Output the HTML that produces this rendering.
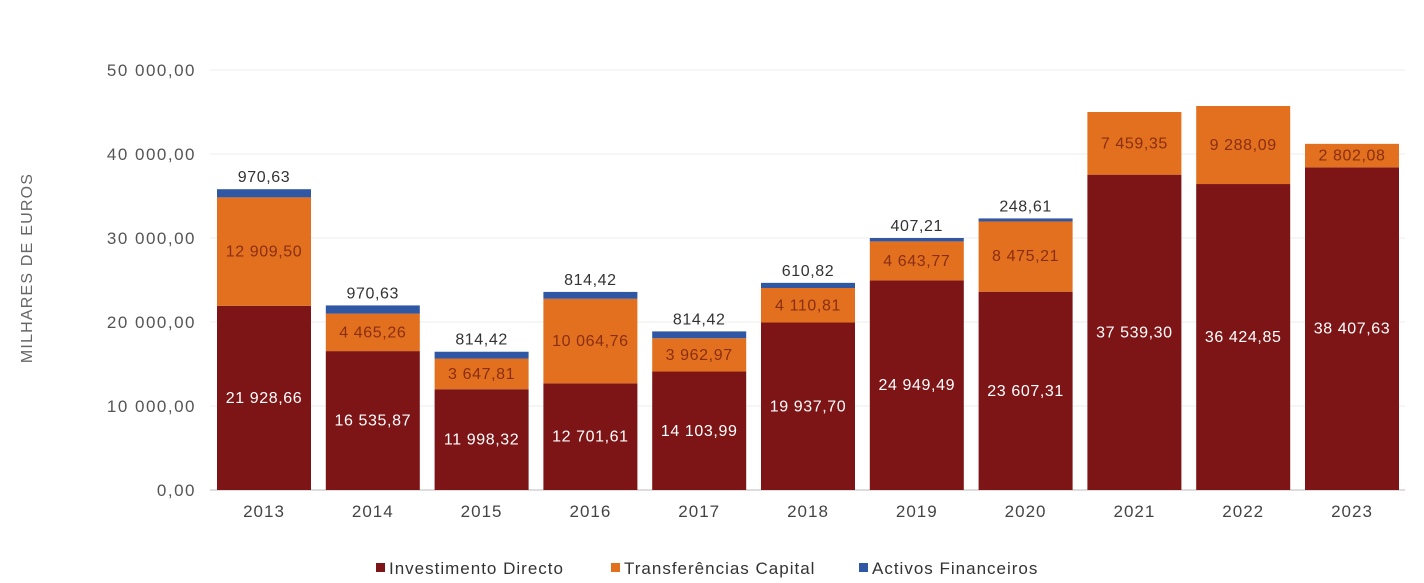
<!DOCTYPE html>
<html><head><meta charset="utf-8">
<style>
body{margin:0;background:#fff;font-family:"Liberation Sans",sans-serif;}
svg text{font-family:"Liberation Sans",sans-serif;}
</style></head>
<body>
<svg id="chart" width="1424" height="578">
<text x="32" y="268" transform="rotate(-90 32 268)" text-anchor="middle" font-size="16" fill="#666" letter-spacing="1.2">MILHARES DE EUROS</text>
<g id="grid"></g><g id="bars"></g><g id="labels"></g>
<g letter-spacing="1">
<rect x="376" y="563" width="9" height="9" fill="#7d1517"/><text x="389" y="574" font-size="17" fill="#333">Investimento Directo</text>
<rect x="611" y="563" width="9" height="9" fill="#e3701f"/><text x="624" y="574" font-size="17" fill="#333">Transferências Capital</text>
<rect x="859" y="563" width="9" height="9" fill="#2f57a4"/><text x="872" y="574" font-size="17" fill="#333">Activos Financeiros</text>
</g>
</svg>
<script>
const categories=["2013","2014","2015","2016","2017","2018","2019","2020","2021","2022","2023"];
const investimento=[21928.66,16535.87,11998.32,12701.61,14103.99,19937.70,24949.49,23607.31,37539.30,36424.85,38407.63];
const transferencias=[12909.50,4465.26,3647.81,10064.76,3962.97,4110.81,4643.77,8475.21,7459.35,9288.09,2802.08];
const activos=[970.63,970.63,814.42,814.42,814.42,610.82,407.21,248.61,0,0,0];
const ticks=[0,10000,20000,30000,40000,50000];
const NS="http://www.w3.org/2000/svg";
const y=v=>490-v*0.0084;
const x=i=>264+i*108.8;
const fmt=v=>{let s=v.toFixed(2).split(".");return s[0].replace(/\B(?=(\d{3})+(?!\d))/g," ")+","+s[1];};
function mk(tag,attrs,parent,txt){const e=document.createElementNS(NS,tag);for(const k in attrs)e.setAttribute(k,attrs[k]);if(txt!==undefined)e.textContent=txt;parent.appendChild(e);return e;}
const grid=document.getElementById("grid"),bars=document.getElementById("bars"),labels=document.getElementById("labels");
ticks.forEach(t=>{
 const l=mk("line",{x1:210,x2:1405,y1:y(t),y2:y(t),stroke:t===0?"#bbb":"#eee","stroke-width":1},grid);
 
 
 const tx=mk("text",{x:196,y:y(t)+6,"text-anchor":"end","font-size":17,fill:"#555","letter-spacing":1.5},grid,fmt(t));
 
 
});
const w=94;
categories.forEach((c,i)=>{
 const cx=x(i),a=investimento[i],b=transferencias[i],d=activos[i];
 const r1=mk("rect",{x:cx-w/2,y:y(a),width:w,height:y(0)-y(a),fill:"#7d1517"},bars);
 
 
 const r2=mk("rect",{x:cx-w/2,y:y(a+b),width:w,height:y(a)-y(a+b),fill:"#e3701f"},bars);
 
 
 if(d>0){const r3=mk("rect",{x:cx-w/2,y:y(a+b+d),width:w,height:Math.max(y(a+b)-y(a+b+d),3),fill:"#2f57a4"},bars);
 
 
 const t3=mk("text",{x:cx,y:y(a+b+d)-7,"text-anchor":"middle","font-size":16,fill:"#333","letter-spacing":0.6},labels,fmt(d));
 
 }
 const t1=mk("text",{x:cx,y:(y(a)+y(0))/2+5,"text-anchor":"middle","font-size":16,fill:"#fff","letter-spacing":0.6},labels,fmt(a));
 
 
 const t2=mk("text",{x:cx,y:(y(a)+y(a+b))/2+5,"text-anchor":"middle","font-size":16,fill:"#8a2e12","letter-spacing":0.6},labels,fmt(b));
 
 
 const tc=mk("text",{x:cx,y:517,"text-anchor":"middle","font-size":17,fill:"#444","letter-spacing":1},labels,c);
 
 
});
</script>
</body></html>
